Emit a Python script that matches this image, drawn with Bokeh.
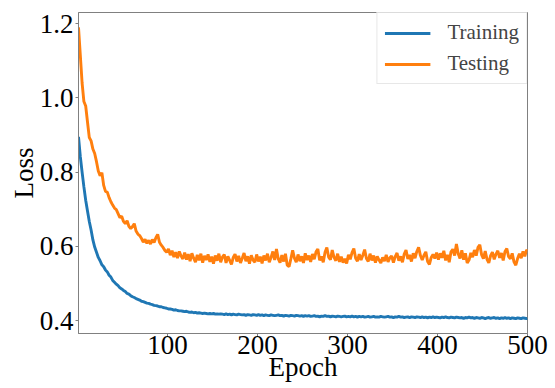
from bokeh.plotting import figure
from bokeh.models import FixedTicker, PrintfTickFormatter, Range1d, Legend, LegendItem
from bokeh.embed import file_html
from bokeh.resources import INLINE

epochs = list(range(1, 501, 2)) + [500]

training = [
    0.895, 0.842, 0.800, 0.760, 0.724, 0.695, 0.667, 0.644, 0.617, 0.598,
    0.584, 0.570, 0.561, 0.550, 0.545, 0.536, 0.531, 0.522, 0.517, 0.508,
    0.503, 0.498, 0.494, 0.488, 0.485, 0.481, 0.478, 0.473, 0.471, 0.467,
    0.464, 0.462, 0.459, 0.457, 0.455, 0.452, 0.451, 0.449, 0.447, 0.446,
    0.444, 0.443, 0.441, 0.440, 0.439, 0.437, 0.437, 0.435, 0.434, 0.433,
    0.431, 0.431, 0.430, 0.428, 0.429, 0.427, 0.426, 0.426, 0.425, 0.424,
    0.425, 0.423, 0.422, 0.423, 0.421, 0.422, 0.420, 0.421, 0.420, 0.419,
    0.420, 0.419, 0.418, 0.419, 0.418, 0.419, 0.417, 0.418, 0.417, 0.418,
    0.417, 0.416, 0.418, 0.416, 0.417, 0.415, 0.417, 0.416, 0.415, 0.417,
    0.416, 0.415, 0.416, 0.414, 0.416, 0.415, 0.414, 0.416, 0.415, 0.414,
    0.416, 0.414, 0.415, 0.413, 0.415, 0.414, 0.413, 0.415, 0.414, 0.413,
    0.414, 0.415, 0.413, 0.414, 0.412, 0.414, 0.413, 0.412, 0.414, 0.413,
    0.412, 0.414, 0.413, 0.412, 0.413, 0.411, 0.413, 0.412, 0.413, 0.411,
    0.412, 0.413, 0.411, 0.412, 0.410, 0.412, 0.411, 0.413, 0.411, 0.412,
    0.410, 0.412, 0.411, 0.410, 0.412, 0.411, 0.410, 0.411, 0.412, 0.410,
    0.411, 0.410, 0.412, 0.410, 0.411, 0.409, 0.411, 0.410, 0.411, 0.409,
    0.410, 0.411, 0.409, 0.410, 0.411, 0.409, 0.410, 0.409, 0.411, 0.410,
    0.409, 0.410, 0.411, 0.409, 0.410, 0.408, 0.410, 0.409, 0.411, 0.409,
    0.410, 0.408, 0.409, 0.410, 0.408, 0.410, 0.409, 0.408, 0.410, 0.409,
    0.408, 0.410, 0.408, 0.409, 0.407, 0.409, 0.408, 0.410, 0.408, 0.409,
    0.408, 0.407, 0.409, 0.408, 0.410, 0.408, 0.407, 0.409, 0.408, 0.407,
    0.409, 0.408, 0.407, 0.408, 0.406, 0.408, 0.407, 0.409, 0.407, 0.408,
    0.406, 0.408, 0.407, 0.406, 0.408, 0.407, 0.405, 0.407, 0.408, 0.406,
    0.407, 0.408, 0.406, 0.407, 0.405, 0.407, 0.406, 0.408, 0.406, 0.407,
    0.405, 0.407, 0.406, 0.405, 0.407, 0.406, 0.405, 0.407, 0.406, 0.405,
    0.406,
]

testing = [
    1.190, 1.115, 1.040, 0.990, 0.978, 0.935, 0.893, 0.884, 0.862, 0.850,
    0.828, 0.803, 0.790, 0.798, 0.764, 0.748, 0.746, 0.731, 0.720, 0.711,
    0.703, 0.699, 0.688, 0.677, 0.681, 0.667, 0.661, 0.669, 0.654, 0.648,
    0.653, 0.661, 0.641, 0.633, 0.629, 0.621, 0.611, 0.619, 0.608, 0.616,
    0.606, 0.618, 0.610, 0.623, 0.632, 0.611, 0.603, 0.597, 0.589, 0.584,
    0.593, 0.576, 0.588, 0.571, 0.584, 0.568, 0.586, 0.574, 0.566, 0.583,
    0.564, 0.579, 0.560, 0.581, 0.568, 0.557, 0.577, 0.562, 0.580, 0.556,
    0.574, 0.563, 0.578, 0.558, 0.572, 0.553, 0.575, 0.561, 0.580, 0.557,
    0.571, 0.578, 0.555, 0.573, 0.562, 0.551, 0.570, 0.579, 0.559, 0.574,
    0.555, 0.568, 0.582, 0.560, 0.573, 0.553, 0.576, 0.563, 0.557, 0.578,
    0.559, 0.572, 0.554, 0.575, 0.562, 0.580, 0.557, 0.570, 0.586, 0.563,
    0.593, 0.566, 0.556, 0.576, 0.559, 0.580, 0.549, 0.545, 0.566, 0.589,
    0.568, 0.557, 0.578, 0.560, 0.573, 0.555, 0.581, 0.563, 0.575, 0.558,
    0.579, 0.565, 0.585, 0.593, 0.562, 0.573, 0.557, 0.584, 0.597, 0.571,
    0.564, 0.590, 0.570, 0.561, 0.580, 0.558, 0.572, 0.556, 0.566, 0.554,
    0.577, 0.565, 0.583, 0.594, 0.568, 0.560, 0.579, 0.563, 0.576, 0.591,
    0.567, 0.559, 0.580, 0.562, 0.575, 0.556, 0.573, 0.563, 0.555, 0.570,
    0.560, 0.577, 0.558, 0.569, 0.574, 0.556, 0.572, 0.582, 0.561, 0.573,
    0.557, 0.579, 0.590, 0.566, 0.577, 0.559, 0.581, 0.568, 0.586, 0.597,
    0.575, 0.563, 0.576, 0.585, 0.559, 0.551, 0.570, 0.578, 0.567, 0.583,
    0.564, 0.581, 0.569, 0.588, 0.562, 0.577, 0.557, 0.585, 0.592, 0.575,
    0.606, 0.580, 0.567, 0.589, 0.564, 0.581, 0.555, 0.563, 0.582, 0.571,
    0.590, 0.575, 0.597, 0.604, 0.577, 0.567, 0.587, 0.565, 0.555, 0.575,
    0.584, 0.565, 0.579, 0.588, 0.569, 0.582, 0.562, 0.586, 0.594, 0.572,
    0.566, 0.581, 0.558, 0.549, 0.567, 0.580, 0.568, 0.586, 0.573, 0.590,
    0.587,
]

x_ticks = [100, 200, 300, 400, 500]
y_ticks = [0.4, 0.6, 0.8, 1.0, 1.2]
series_names = ["Training", "Testing"]
series_colors = ["#1f77b4", "#ff7f0e"]

FONT = "Liberation Serif"
SPINE = "#808080"

p = figure(width=555, height=388, output_backend="svg", toolbar_location=None,
           x_range=Range1d(1, 500), y_range=Range1d(0.365, 1.23),
           min_border_left=78, min_border_right=28, min_border_top=12, min_border_bottom=55,
           x_axis_label="Epoch", y_axis_label="Loss")
p.background_fill_color = "white"
p.border_fill_color = "white"
p.outline_line_color = SPINE
p.outline_line_width = 1
p.grid.visible = False

r_train = p.line(epochs, training, line_color=series_colors[0], line_width=2.9)
r_test = p.line(epochs, testing, line_color=series_colors[1], line_width=2.9)

for axes in (p.xaxis, p.yaxis):
    axes.axis_line_color = SPINE
    axes.major_tick_line_color = SPINE
    axes.major_tick_in = 0
    axes.major_tick_out = 3
    axes.minor_tick_line_color = None
    axes.major_label_text_font = FONT
    axes.major_label_text_font_size = "27px"
    axes.major_label_text_color = "black"
    axes.axis_label_text_font = FONT
    axes.axis_label_text_font_size = "27px"
    axes.axis_label_text_font_style = "normal"
    axes.axis_label_text_color = "black"

p.xaxis.ticker = FixedTicker(ticks=x_ticks)
p.yaxis.ticker = FixedTicker(ticks=y_ticks)
p.yaxis.formatter = PrintfTickFormatter(format="%.1f")
p.xaxis.major_label_standoff = -1
p.xaxis.axis_label_standoff = -5
p.yaxis.major_label_standoff = 2
p.yaxis.axis_label_standoff = -2

legend = Legend(items=[LegendItem(label=series_names[0], renderers=[r_train]),
                       LegendItem(label=series_names[1], renderers=[r_test])],
                location="top_right")
legend.margin = 0
legend.padding = 7
legend.spacing = 6
legend.glyph_width = 46
legend.glyph_height = 24
legend.label_height = 24
legend.label_standoff = 17
legend.label_text_font = FONT
legend.label_text_font_size = "21px"
legend.border_line_color = "#d0d0d0"
legend.border_line_width = 1
legend.background_fill_alpha = 0.8
p.add_layout(legend)

open("out.html", "w").write(file_html(p, INLINE))
